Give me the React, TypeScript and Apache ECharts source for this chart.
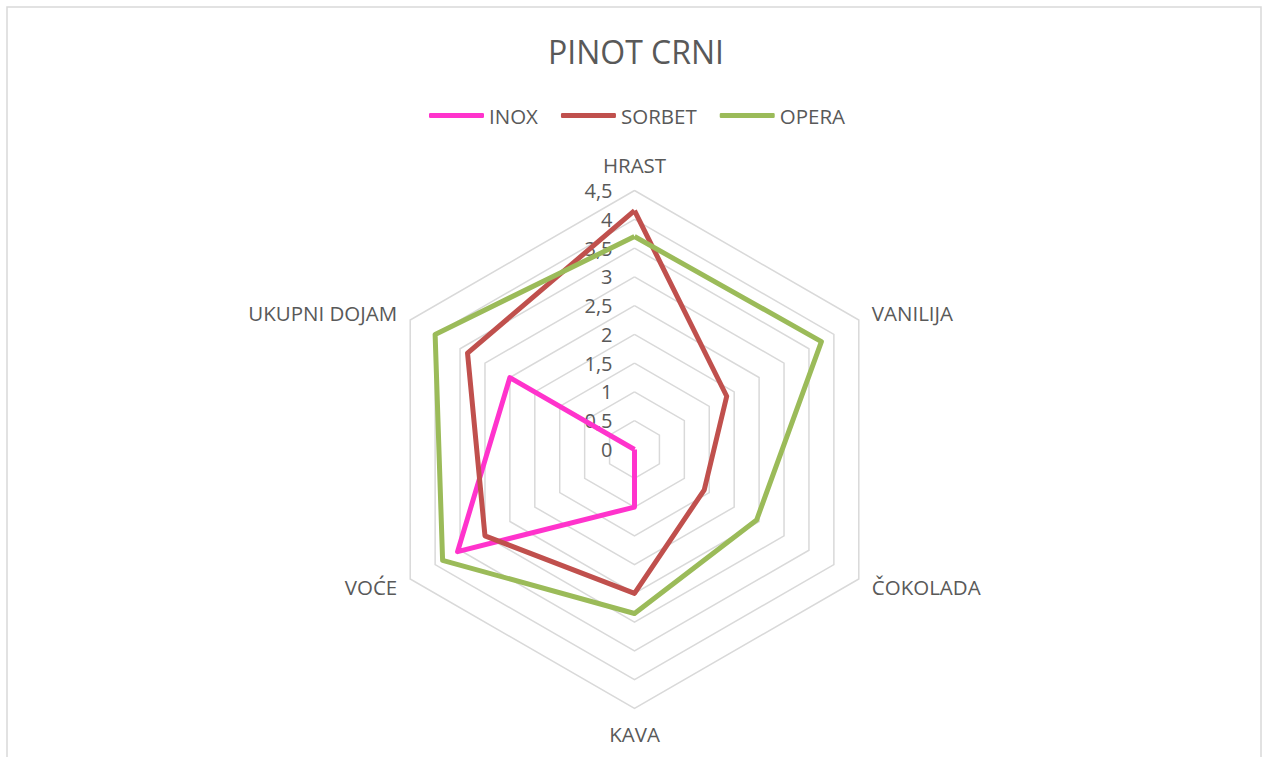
import React, { useEffect, useRef } from "react";
import * as echarts from "echarts";

const title = "PINOT CRNI";
// Categories in clockwise order starting from the top
const categories = ["HRAST", "VANILIJA", "ČOKOLADA", "KAVA", "VOĆE", "UKUPNI DOJAM"];
const seriesNames = ["INOX", "SORBET", "OPERA"];
const inox = [0, 0, 0, 1, 3.55, 2.5];
const sorbet = [4.15, 1.85, 1.4, 2.5, 3, 3.35];
const opera = [3.7, 3.75, 2.45, 2.85, 3.85, 4.0];
const axisMax = 4.5;
const axisSplits = 9;
const colors = ["#FF33CC", "#C0504D", "#9BBB59"];

const FONT = "'Open Sans', 'Noto Sans', sans-serif";

export default function App() {
  const ref = useRef<HTMLDivElement>(null);
  useEffect(() => {
    if (!ref.current) return;
    const chart = echarts.init(ref.current, undefined, { renderer: "svg" });
    // ECharts places radar indicators counter-clockwise; reorder to draw clockwise
    const order = [0, 5, 4, 3, 2, 1];
    const reorder = (arr: number[]) => order.map((i) => arr[i]);
    const indicator = order.map((i, k) => {
      const ind: any = { name: categories[i], min: 0, max: axisMax };
      if (k === 0) ind.axisLabel = { show: true };
      return ind;
    });
    const all = [inox, sorbet, opera];
    chart.setOption({
      animation: false,
      backgroundColor: "#ffffff",
      textStyle: { fontFamily: FONT },
      title: {
        text: title,
        left: 543,
        top: 30,
        textStyle: { fontSize: 32, fontWeight: "normal", color: "#595959", fontFamily: FONT },
      },
      legend: {
        data: seriesNames,
        top: 100,
        left: 424,
        icon: "roundRect",
        itemWidth: 55,
        itemHeight: 5,
        itemGap: 23,
        textStyle: { fontSize: 20.5, color: "#595959", fontFamily: FONT },
      },
      graphic: [
        {
          type: "rect",
          shape: { x: 7, y: 7, width: 1254, height: 770 },
          style: { fill: "none", stroke: "#d9d9d9", lineWidth: 1.5 },
          silent: true,
        },
      ],
      radar: {
        center: [634.5, 449.5],
        radius: 259,
        startAngle: 90,
        shape: "polygon",
        splitNumber: axisSplits,
        indicator,
        nameGap: 15,
        axisName: { color: "#595959", fontSize: 20.5, fontFamily: FONT },
        axisLine: { show: false },
        axisTick: { show: false },
        axisLabel: {
          show: false,
          color: "#595959",
          fontSize: 20,
          fontFamily: FONT,
          margin: 22,
          formatter: (v: number) => String(v).replace(".", ","),
        },
        splitLine: { lineStyle: { color: "#d9d9d9", width: 1.5 } },
        splitArea: { show: false },
      },
      series: [
        {
          type: "radar",
          symbol: "none",
          data: seriesNames.map((n, i) => ({
            name: n,
            value: reorder(all[i]),
            lineStyle: { color: colors[i], width: 5 },
            itemStyle: { color: colors[i] },
          })),
        },
      ],
    });
    return () => chart.dispose();
  }, []);
  return (
    <div
      ref={ref}
      style={{ position: "fixed", left: 0, top: 0, width: 1262, height: 757 }}
    />
  );
}
